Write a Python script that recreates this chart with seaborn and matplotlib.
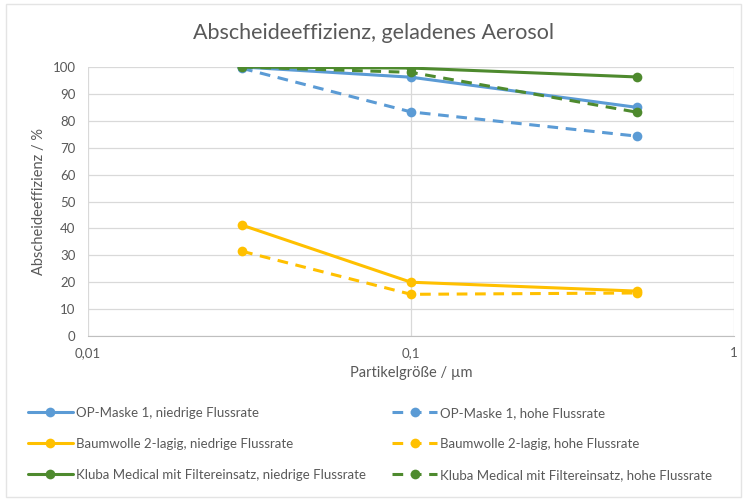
import seaborn as sns
import matplotlib.pyplot as plt
import matplotlib.ticker as mticker
import pandas as pd

sns.set_style("white")
plt.rcParams['font.family'] = ['Lato', 'DejaVu Sans']

# Partikelgröße in µm
partikel = [0.03, 0.1, 0.5]

# Abscheideeffizienz in %
op_niedrig = [100, 96.2, 85.0]
op_hoch = [99.5, 83.3, 74.3]
baum_niedrig = [41.2, 20.0, 16.7]
baum_hoch = [31.5, 15.5, 16.0]
kluba_niedrig = [100, 99.6, 96.3]
kluba_hoch = [100, 98.0, 83.2]

namen = ['OP-Maske 1, niedrige Flussrate', 'Baumwolle 2-lagig, niedrige Flussrate',
         'Kluba Medical mit Filtereinsatz, niedrige Flussrate',
         'OP-Maske 1, hohe Flussrate', 'Baumwolle 2-lagig, hohe Flussrate',
         'Kluba Medical mit Filtereinsatz, hohe Flussrate']
werte = [op_niedrig, baum_niedrig, kluba_niedrig, op_hoch, baum_hoch, kluba_hoch]
farben = ['#5b9bd5', '#ffc000', '#4e8a2e', '#5b9bd5', '#ffc000', '#4e8a2e']
stile = ['-', '-', '-', (0, (3.5, 2.5)), (0, (3.5, 2.5)), (0, (3.5, 2.5))]

df = pd.DataFrame([(x, y, n) for n, w in zip(namen, werte) for x, y in zip(partikel, w)],
                  columns=['x', 'y', 'serie'])

textfarbe = '#595959'
fig = plt.figure(figsize=(7.47, 5.01), dpi=100)
ax = fig.add_axes([0.1178, 0.3293, 0.8648, 0.537])

for n, c, ls in zip(namen, farben, stile):
    sns.lineplot(data=df[df.serie == n], x='x', y='y', color=c, linestyle=ls, lw=2.2,
                 marker='o', markersize=7, markeredgewidth=0, label=n, ax=ax)

ax.set_xscale('log')
ax.set_xlim(0.01, 1)
ax.set_ylim(0, 100)
ax.xaxis.set_major_locator(mticker.FixedLocator([0.01, 0.1, 1]))
ax.xaxis.set_minor_locator(mticker.NullLocator())
ax.set_xticklabels(['0,01', '0,1', '1'])
ax.set_yticks(range(0, 101, 10))
ax.tick_params(axis='y', colors=textfarbe, labelsize=9.5, length=0, pad=9)
ax.tick_params(axis='x', colors=textfarbe, labelsize=9.5, length=0, pad=8)
ax.grid(True, color='#d9d9d9', lw=0.9)
ax.set_axisbelow(True)
for s in ['top', 'right', 'left']:
    ax.spines[s].set_visible(False)
ax.spines['bottom'].set_color('#bfbfbf')

ax.set_xlabel('Partikelgröße / µm', color=textfarbe, fontsize=10.5, labelpad=5)
ax.set_ylabel('Abscheideeffizienz / %', color=textfarbe, fontsize=10.5, labelpad=5)
fig.text(0.5, 0.934, 'Abscheideeffizienz, geladenes Aerosol', ha='center', va='center',
         color=textfarbe, fontsize=15.5)

# Legende in zwei Spalten: links niedrige, rechts hohe Flussrate
handles, labels = ax.get_legend_handles_labels()
ax.get_legend().remove()
for sl, xpos in [(slice(0, 3), 0.0375), (slice(3, 6), 0.525)]:
    leg = fig.legend(handles[sl], labels[sl], loc='upper left', bbox_to_anchor=(xpos, 0.188),
                     frameon=False, fontsize=9.5, handlelength=3.4, labelspacing=1.45,
                     handletextpad=0.25, borderpad=0, borderaxespad=0)
    for t in leg.get_texts():
        t.set_color(textfarbe)

fig.patches.append(plt.Rectangle((0.008, 0.008), 0.984, 0.984, transform=fig.transFigure,
                                 fill=False, edgecolor='#e4e4e4', lw=1))

plt.savefig('out.png', dpi=100)
